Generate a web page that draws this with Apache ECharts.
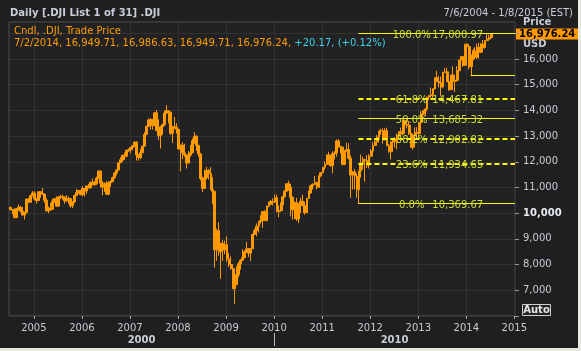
<!DOCTYPE html>
<html>
<head>
    <meta charset="utf-8">
    <title>.DJI daily</title>
    <script src="https://cdn.jsdelivr.net/npm/echarts@6/dist/echarts.min.js"></script>
    <style>
        html, body { margin: 0; padding: 0; background: #e9e8e1; }
        #main { width: 578px; height: 348px; }
    </style>
</head>
<body>
<div id="main"></div>

<script type="text/javascript">
    // half-month candles [open, close, low, high]
    var dji2004 = [ // from July
        [10220, 10140, 10100, 10260], [10140, 10140, 9960, 10150],
        [10140, 9825, 9810, 10190], [9825, 10174, 9820, 10200],
        [10174, 10231, 10100, 10340], [10231, 10080, 10030, 10290],
        [10080, 9933, 9900, 10240], [9933, 10027, 9750, 10060],
        [10027, 10550, 10000, 10560], [10550, 10428, 10400, 10590],
        [10428, 10691, 10420, 10700], [10691, 10783, 10650, 10860]
    ];
    var dji2005 = [
        [10783, 10558, 10500, 10860], [10558, 10490, 10370, 10600],
        [10490, 10837, 10480, 10850], [10837, 10766, 10600, 10850],
        [10766, 10745, 10700, 10980], [10745, 10504, 10400, 10760],
        [10504, 10088, 10080, 10580], [10088, 10192, 10000, 10260],
        [10192, 10140, 10090, 10400], [10140, 10467, 10130, 10560],
        [10467, 10566, 10400, 10600], [10566, 10275, 10250, 10650],
        [10275, 10640, 10270, 10660], [10640, 10641, 10550, 10720],
        [10641, 10635, 10520, 10720], [10635, 10482, 10370, 10640],
        [10482, 10558, 10440, 10700], [10558, 10569, 10370, 10650],
        [10569, 10288, 10220, 10590], [10288, 10440, 10200, 10460],
        [10440, 10686, 10400, 10720], [10686, 10806, 10680, 10940],
        [10806, 10881, 10750, 10900], [10881, 10718, 10700, 10900]
    ];
    var dji2006 = [
        [10718, 10960, 10660, 11050], [10960, 10865, 10650, 10960],
        [10865, 11058, 10740, 11070], [11058, 10993, 10950, 11140],
        [10993, 11209, 10950, 11220], [11209, 11109, 11100, 11340],
        [11109, 11137, 11070, 11250], [11137, 11367, 11100, 11420],
        [11367, 11642, 11330, 11670], [11642, 11168, 11000, 11650],
        [11168, 11016, 10700, 11250], [11016, 11150, 10830, 11200],
        [11150, 10740, 10720, 11250], [10740, 11185, 10700, 11240],
        [11185, 11230, 11030, 11270], [11230, 11381, 11200, 11420],
        [11381, 11560, 11330, 11600], [11560, 11679, 11470, 11720],
        [11679, 11960, 11660, 11990], [11960, 12081, 11950, 12170],
        [12081, 12250, 11990, 12280], [12250, 12221, 12060, 12360],
        [12221, 12446, 12170, 12470], [12446, 12463, 12380, 12520]
    ];
    var dji2007 = [
        [12463, 12556, 12330, 12580], [12556, 12622, 12450, 12630],
        [12622, 12765, 12580, 12790], [12765, 12268, 12050, 12800],
        [12268, 12160, 12040, 12300], [12160, 12354, 12100, 12500],
        [12354, 12612, 12340, 12620], [12612, 13063, 12600, 13150],
        [13063, 13383, 13050, 13400], [13383, 13628, 13370, 13680],
        [13628, 13639, 13250, 13700], [13639, 13408, 13250, 13650],
        [13408, 13907, 13400, 13920], [13907, 13212, 13200, 14020],
        [13212, 13028, 12850, 13650], [13028, 13358, 12520, 13400],
        [13358, 13442, 13060, 13480], [13442, 13896, 13400, 14000],
        [13896, 13985, 13850, 14200], [13985, 13930, 13500, 14000],
        [13930, 13110, 13050, 13950], [13110, 13372, 12740, 13380],
        [13372, 13340, 13280, 13750], [13340, 13265, 13100, 13500]
    ];
    var dji2008 = [
        [13265, 12501, 12480, 13280], [12501, 12650, 11630, 12660],
        [12650, 12348, 12100, 12760], [12348, 12266, 12200, 12700],
        [12266, 11951, 11740, 12280], [11951, 12263, 11950, 12420],
        [12263, 12351, 12200, 12650], [12351, 12820, 12340, 12900],
        [12820, 12992, 12700, 13150], [12992, 12638, 12420, 13030],
        [12638, 12307, 12200, 12660], [12307, 11350, 11280, 12350],
        [11350, 10963, 10830, 11420], [10963, 11378, 10960, 11700],
        [11378, 11659, 11320, 11800], [11659, 11543, 11300, 11720],
        [11543, 10917, 10900, 11790], [10917, 10851, 10360, 11400],
        [10851, 8578, 7880, 10860], [8578, 9325, 8150, 9400],
        [9325, 8497, 8350, 9650], [8497, 8829, 7450, 8850],
        [8829, 8565, 8150, 8950], [8565, 8776, 8400, 8930]
    ];
    var dji2009 = [
        [8776, 8212, 8100, 9090], [8212, 8000, 7900, 8450],
        [8000, 7850, 7800, 8320], [7850, 7063, 7050, 7860],
        [7063, 7224, 6470, 7250], [7224, 7609, 7200, 7930],
        [7609, 8029, 7500, 8090], [8029, 8168, 7800, 8200],
        [8168, 8268, 8150, 8600], [8268, 8500, 8250, 8550],
        [8500, 8612, 8450, 8880], [8612, 8447, 8300, 8650],
        [8447, 8616, 8140, 8620], [8616, 9172, 8610, 9200],
        [9172, 9321, 9150, 9400], [9321, 9496, 9100, 9600],
        [9496, 9683, 9250, 9700], [9683, 9712, 9600, 9920],
        [9712, 10062, 9430, 10080], [10062, 9713, 9700, 10120],
        [9713, 10270, 9680, 10300], [10270, 10345, 10230, 10450],
        [10345, 10452, 10330, 10520], [10452, 10428, 10300, 10580]
    ];
    var dji2010 = [
        [10428, 10610, 10400, 10730], [10610, 10067, 10030, 10730],
        [10067, 10100, 9840, 10300], [10100, 10325, 10050, 10420],
        [10325, 10642, 10300, 10650], [10642, 10857, 10600, 10900],
        [10857, 11145, 10850, 11150], [11145, 11009, 10880, 11260],
        [11009, 10620, 9870, 11150], [10620, 10137, 9750, 10650],
        [10137, 10405, 9770, 10450], [10405, 9774, 9700, 10600],
        [9774, 10360, 9615, 10400], [10360, 10466, 10000, 10600],
        [10466, 10303, 10270, 10720], [10303, 10015, 9940, 10450],
        [10015, 10573, 10010, 10600], [10573, 10788, 10550, 10880],
        [10788, 11063, 10750, 11100], [11063, 11118, 10920, 11170],
        [11118, 11202, 11100, 11450], [11202, 11006, 10930, 11220],
        [11006, 11457, 11000, 11470], [11457, 11578, 11400, 11600]
    ];
    var dji2011 = [
        [11578, 11787, 11550, 11800], [11787, 11892, 11690, 12020],
        [11892, 12266, 11890, 12280], [12266, 12226, 11980, 12390],
        [12226, 11855, 11800, 12260], [11855, 12320, 11560, 12400],
        [12320, 12342, 12090, 12420], [12342, 12811, 12200, 12870],
        [12811, 12596, 12560, 12880], [12596, 12570, 12320, 12620],
        [12570, 11898, 11860, 12570], [11898, 12414, 11870, 12450],
        [12414, 12480, 12400, 12750], [12480, 12143, 12090, 12720],
        [12143, 11483, 10600, 12250], [11483, 11614, 10920, 11620],
        [11614, 11434, 10930, 11720], [11434, 10913, 10600, 11550],
        [10913, 11644, 10369.67, 11650], [11644, 11955, 11380, 12290],
        [11955, 12096, 11700, 12200], [12096, 12046, 11230, 12100],
        [12046, 11868, 11760, 12260], [11868, 12218, 11740, 12300]
    ];
    var dji2012 = [
        [12218, 12422, 12200, 12500], [12422, 12633, 12420, 12760],
        [12633, 12781, 12620, 12900], [12781, 12952, 12780, 13040],
        [12952, 13194, 12750, 13200], [13194, 13212, 13050, 13290],
        [13212, 12850, 12710, 13300], [12850, 13214, 12840, 13310],
        [13214, 12632, 12600, 13330], [12632, 12393, 12350, 12700],
        [12393, 12767, 12100, 12800], [12767, 12880, 12500, 12900],
        [12880, 12777, 12560, 12950], [12777, 13009, 12490, 13100],
        [13009, 13165, 12900, 13200], [13165, 13091, 12990, 13330],
        [13091, 13593, 13030, 13650], [13593, 13437, 13420, 13600],
        [13437, 13424, 13300, 13660], [13424, 13096, 13040, 13590],
        [13096, 12570, 12540, 13280], [12570, 13026, 12470, 13050],
        [13026, 13135, 12880, 13340], [13135, 13104, 12880, 13350]
    ];
    var dji2013 = [
        [13104, 13535, 12920, 13540], [13535, 13861, 13500, 13970],
        [13861, 13982, 13830, 14020], [13982, 14054, 13780, 14080],
        [14054, 14515, 14000, 14540], [14515, 14579, 14390, 14590],
        [14579, 14600, 14500, 14890], [14600, 14840, 14450, 14860],
        [14840, 15275, 14810, 15290], [15275, 15116, 15100, 15540],
        [15116, 15070, 14890, 15340], [15070, 14910, 14550, 15320],
        [14910, 15484, 14900, 15500], [15484, 15500, 15450, 15640],
        [15500, 15112, 15100, 15660], [15112, 14810, 14760, 15120],
        [14810, 15376, 14790, 15380], [15376, 15130, 15080, 15710],
        [15130, 15169, 14720, 15200], [15169, 15546, 15160, 15720],
        [15546, 15962, 15520, 15970], [15962, 16086, 15870, 16100],
        [16086, 15755, 15700, 16120], [15755, 16577, 15740, 16590]
    ];
    var dji2014 = [ // to 7/2/2014
        [16577, 16482, 16180, 16590], [16482, 15699, 15600, 16540],
        [15699, 16154, 15340, 16160], [16154, 16322, 15950, 16400],
        [16322, 16065, 16000, 16460], [16065, 16458, 16000, 16600],
        [16458, 16263, 16020, 16630], [16263, 16581, 16230, 16610],
        [16581, 16447, 16330, 16740], [16447, 16717, 16400, 16740],
        [16717, 16776, 16700, 16970], [16776, 16827, 16730, 16950],
        [16827, 16976.24, 16820, 16986.63]
    ];

    // fibonacci retracement drawn from the 2011 low to the 2014 high
    var fibPcts = ['0.0%', '23.6%', '38.2%', '50.0%', '61.8%', '100.0%'];
    var fibValues = [10369.67, 11934.65, 12902.82, 13685.32, 14467.81, 17000.97];
    var fibStart = '2011-10-04';
    var supportLevel = 15372.80;
    var supportStart = '2014-02-03';

    var lastQuote = {date: '7/2/2014', open: 16949.71, high: 16986.63, low: 16949.71, close: 16976.24, chg: 20.17, pct: 0.12};

    var xMin = '2004-06-26';
    var xMax = '2015-01-06';
    var decades = [['2000', '2004-06-26', '2010-01-01'], ['2010', '2010-01-01', '2015-01-06']];

    var font = '"DejaVu Sans", sans-serif';
    var orange = '#ff9900';
    var yellow = '#ffff00';

    function fmt(n) {
        return n.toLocaleString('en-US', {minimumFractionDigits: 2, maximumFractionDigits: 2});
    }

    // half-month buckets, candle placed on the 8th and 23rd
    var candles = [];
    [[2004, 7, dji2004], [2005, 1, dji2005], [2006, 1, dji2006], [2007, 1, dji2007],
        [2008, 1, dji2008], [2009, 1, dji2009], [2010, 1, dji2010], [2011, 1, dji2011],
        [2012, 1, dji2012], [2013, 1, dji2013], [2014, 1, dji2014]].forEach(function (y) {
        y[2].forEach(function (r, i) {
            var m = y[1] + Math.floor(i / 2);
            var d = y[0] + '-' + (m < 10 ? '0' + m : m) + (i % 2 ? '-23' : '-08');
            candles.push([d, r[0], r[1], r[2], r[3]]);
        });
    });

    var fibLines = fibValues.map(function (v, i) {
        var dashed = ['23.6%', '38.2%', '61.8%'].indexOf(fibPcts[i]) >= 0;
        var ls = {color: yellow, opacity: 1, width: dashed ? 2 : 1, type: dashed ? [5, 3] : 'solid'};
        return [{
            coord: [fibStart, v],
            lineStyle: ls,
            label: {
                show: true, position: 'insideMiddle', offset: [0, 2],
                formatter: '{a|' + fibPcts[i] + '}{b|' + fmt(v) + '}',
                rich: {
                    a: {width: 42, color: '#cddc39', fontSize: 10, fontFamily: font},
                    b: {width: 50, color: '#cddc39', fontSize: 10, fontFamily: font}
                }
            }
        }, {coord: [xMax, v], lineStyle: ls}];
    });
    var supportStyle = {color: yellow, opacity: 1, width: 1, type: 'solid'};
    fibLines.push([{
        coord: [supportStart, supportLevel],
        lineStyle: supportStyle,
        label: {show: false}
    }, {coord: [xMax, supportLevel], lineStyle: supportStyle}]);

    var myChart = echarts.init(document.getElementById('main'));

    option = {
        animation: false,
        backgroundColor: '#1f1f1f',
        textStyle: {fontFamily: font},
        grid: {
            left: 9, right: 63, top: 22, bottom: 32,
            show: true, backgroundColor: '#222222', borderColor: '#555555', borderWidth: 1
        },
        xAxis: {
            type: 'time',
            min: xMin,
            max: xMax,
            splitNumber: 10,
            minInterval: 365 * 24 * 3600 * 1000,
            axisLine: {show: false},
            axisTick: {show: true, length: 3, lineStyle: {color: '#aaaaaa'}},
            axisLabel: {
                showMinLabel: false, showMaxLabel: false,
                color: '#c6ccd6', fontSize: 10, fontFamily: font, margin: 7,
                formatter: function (v) {
                    var d = new Date(v);
                    return d.getMonth() === 0 && d.getDate() === 1 ? String(d.getFullYear()) : '';
                }
            },
            splitLine: {show: true, lineStyle: {color: '#323232'}}
        },
        yAxis: {
            type: 'value',
            position: 'right',
            scale: true,
            min: 6000,
            max: 17440,
            interval: 1000,
            axisLine: {show: false},
            axisTick: {show: true, length: 4, lineStyle: {color: '#999999'}},
            axisLabel: {
                color: '#c6ccd6', fontSize: 10, fontFamily: font, margin: 8,
                showMaxLabel: false,
                formatter: function (v) {
                    if (v < 7000 || v > 16500) return '';
                    var s = v.toLocaleString('en-US');
                    return v === 10000 ? '{b|' + s + '}' : s;
                },
                rich: {b: {color: '#e8ecf2', fontWeight: 'bold', fontSize: 10, fontFamily: font}}
            },
            splitLine: {show: true, lineStyle: {color: '#323232'}}
        },
        series: [{
            name: '.DJI',
            type: 'candlestick',
            data: candles,
            barWidth: 2.4,
            itemStyle: {color: orange, color0: orange, borderColor: orange, borderColor0: orange, borderWidth: 1},
            markLine: {
                silent: true,
                symbol: ['none', 'none'],
                animation: false,
                lineStyle: {color: yellow, opacity: 1},
                emphasis: {disabled: true},
                data: fibLines
            }
        }]
    };

    myChart.setOption(option);

    function px(axis, v) {
        var f = {};
        f[axis] = 0;
        if (axis === 'xAxisIndex') v = +echarts.time.parse(v);
        return myChart.convertToPixel(f, v);
    }

    var graphics = [
        {type: 'text', x: 10, y: 13, style: {text: 'Daily [.DJI List 1 of 31] .DJI', fill: '#c9ced6', font: 'bold 10px ' + font, verticalAlign: 'middle'}},
        {type: 'text', x: 573, y: 13, style: {text: '7/6/2004 - 1/8/2015 (EST)', fill: '#c9ced6', font: '10px ' + font, align: 'right', verticalAlign: 'middle'}},
        {type: 'text', x: 14, y: 31, style: {text: 'Cndl, .DJI, Trade Price', fill: '#ff9c00', font: '10px ' + font, verticalAlign: 'middle'}},
        {type: 'text', x: 14, y: 43, style: {
            text: '{o|' + [lastQuote.date, fmt(lastQuote.open), fmt(lastQuote.high), fmt(lastQuote.low), fmt(lastQuote.close)].join(', ') + ', }' +
                '{c|+' + fmt(lastQuote.chg) + ', (+' + fmt(lastQuote.pct) + '%)}',
            font: '10px ' + font, verticalAlign: 'middle',
            rich: {o: {fill: '#ff9c00', fontSize: 10, fontFamily: font}, c: {fill: '#3cd2ea', fontSize: 10, fontFamily: font}}
        }},
        {type: 'text', x: 523, y: 22, style: {text: 'Price', fill: '#c6ccd6', font: 'bold 10px ' + font, verticalAlign: 'middle'}},
        {type: 'text', x: 523, y: 44, style: {text: 'USD', fill: '#c6ccd6', font: 'bold 10px ' + font, verticalAlign: 'middle'}}
    ];

    var yLast = px('yAxisIndex', lastQuote.close);
    graphics.push({type: 'rect', shape: {x: 516, y: yLast - 5.5, width: 62, height: 11}, style: {fill: orange}});
    graphics.push({type: 'text', x: 519, y: yLast, style: {text: fmt(lastQuote.close), fill: '#000000', font: 'bold 10px ' + font, verticalAlign: 'middle'}});

    graphics.push({type: 'rect', shape: {x: 522.5, y: 304.5, width: 28, height: 11}, style: {fill: '#262626', stroke: '#cfcfcf', lineWidth: 1}});
    graphics.push({type: 'text', x: 536.5, y: 310, style: {text: 'Auto', fill: '#e6e6e6', font: 'bold 10px ' + font, align: 'center', verticalAlign: 'middle'}});

    decades.forEach(function (d) {
        var a = px('xAxisIndex', d[1]), b = px('xAxisIndex', d[2]);
        graphics.push({type: 'text', x: (a + b) / 2, y: 340, style: {text: d[0], fill: '#c9ced6', font: 'bold 10px ' + font, align: 'center', verticalAlign: 'middle'}});
    });
    var xSep = Math.round(px('xAxisIndex', decades[1][1])) + 0.5;
    graphics.push({type: 'line', shape: {x1: xSep, y1: 333, x2: xSep, y2: 346}, style: {stroke: '#bbbbbb', lineWidth: 1}});

    myChart.setOption({graphic: graphics});
</script>
</body>
</html>
